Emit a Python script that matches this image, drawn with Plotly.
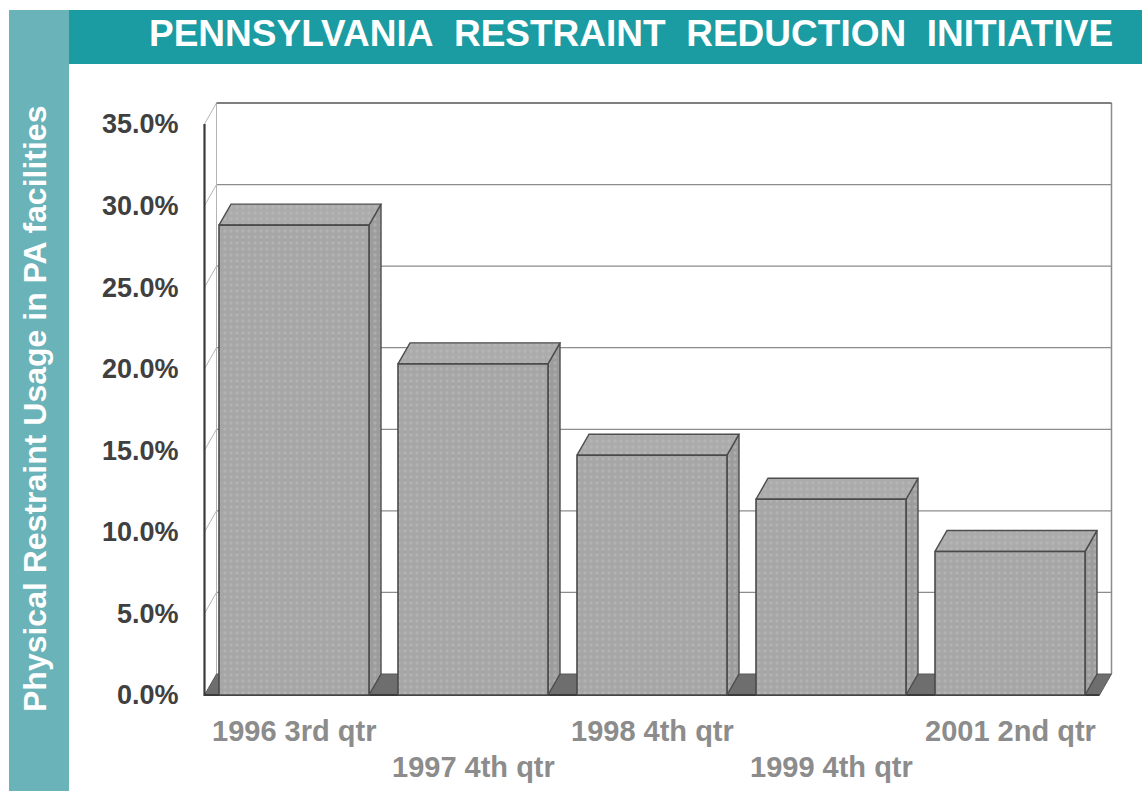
import plotly.graph_objects as go

# ---- data -------------------------------------------------------------
quarters = ["1996 3rd qtr", "1997 4th qtr", "1998 4th qtr", "1999 4th qtr", "2001 2nd qtr"]
restraint_pct = [28.8, 20.3, 14.7, 12.0, 8.8]
y_ticks = [0, 5, 10, 15, 20, 25, 30, 35]
title_text = "PENNSYLVANIA\u00a0\u00a0RESTRAINT\u00a0\u00a0REDUCTION\u00a0\u00a0INITIATIVE"
side_text = "Physical Restraint Usage in PA facilities"

# ---- page / axis calibration -----------------------------------------
W, H = 1142, 791
ML, MR, MT, MB = 186, 8, 78, 88
X_ORIGIN_PX, X_PX_PER_CAT = 294, 179        # pixel of category 0, pixels per category
Y_ORIGIN_PX, Y_PX_PER_PCT = 695, 16.314     # pixel of 0 %, pixels per percent


def x_at(px):
    return (px - X_ORIGIN_PX) / X_PX_PER_CAT


def y_at(py):
    return (Y_ORIGIN_PX - py) / Y_PX_PER_PCT


def paper_x(px):
    return (px - ML) / (W - ML - MR)


def paper_y(py):
    return (H - MB - py) / (H - MT - MB)


x_range = [x_at(ML), x_at(W - MR)]
y_range = [y_at(H - MB), y_at(MT)]

# pseudo-3D depth offsets (in axis units)
DX = 12 / X_PX_PER_CAT
DY = 21 / Y_PX_PER_PCT
BAR_W = 150 / X_PX_PER_CAT
X_LO, X_HI = -0.5, len(quarters) - 0.5
TOP = y_ticks[-1]

FONT = "Liberation Sans, Arial, sans-serif"

fig = go.Figure()


def poly(xs, ys, fill, line_color="rgba(0,0,0,0)", line_w=0, pattern=None):
    kw = dict(x=xs, y=ys, mode="lines", fill="toself", fillcolor=fill,
              line=dict(color=line_color, width=line_w),
              hoverinfo="skip", showlegend=False)
    if pattern:
        kw["fillpattern"] = pattern
    fig.add_trace(go.Scatter(**kw))


def lines(xs, ys, color, width):
    fig.add_trace(go.Scatter(x=xs, y=ys, mode="lines",
                             line=dict(color=color, width=width),
                             hoverinfo="skip", showlegend=False))


# back wall
poly([X_LO + DX, X_HI + DX, X_HI + DX, X_LO + DX, X_LO + DX],
     [DY, DY, TOP + DY, TOP + DY, DY], "white")

# gridlines on the back wall
gx, gy = [], []
for v in y_ticks[1:-1]:
    gx += [X_LO + DX, X_HI + DX, None]
    gy += [v + DY, v + DY, None]
lines(gx, gy, "#8c8c8c", 1.3)

# gridline traces on the left side wall
sx, sy = [], []
for v in y_ticks[1:]:
    sx += [X_LO, X_LO + DX, None]
    sy += [v, v + DY, None]
sx += [X_LO + DX, X_LO + DX, None]
sy += [DY, TOP + DY, None]
lines(sx, sy, "#b4b4b4", 1)

# right edge and top edge of the back wall
lines([X_HI + DX, X_HI + DX], [DY, TOP + DY], "#8c8c8c", 1.5)
lines([X_LO + DX, X_HI + DX], [TOP + DY, TOP + DY], "#555555", 1.6)

# floor
poly([X_LO, X_HI, X_HI + DX, X_LO + DX, X_LO], [0, 0, DY, DY, 0],
     "#6e6e6e", "#5a5a5a", 1)

# front value axis and baseline
lines([X_LO, X_LO, X_HI], [TOP, 0, 0], "#3a3a3a", 2.2)

# bars: side faces, top faces, front faces
side_x, side_y, top_x, top_y, front_x, front_y = [], [], [], [], [], []
for i, v in enumerate(restraint_pct):
    l, r = i - BAR_W / 2, i + BAR_W / 2
    side_x += [r, r + DX, r + DX, r, r, None]
    side_y += [0, DY, v + DY, v, 0, None]
    top_x += [l, r, r + DX, l + DX, l, None]
    top_y += [v, v, v + DY, v + DY, v, None]
    front_x += [l, r, r, l, l, None]
    front_y += [0, 0, v, v, 0, None]

dots = lambda bg: dict(shape=".", bgcolor=bg, fgcolor="#bdbdbd",
                       size=6, solidity=0.25)
poly(side_x, side_y, "#9c9c9c", "#4d4d4d", 1.4, dots("#9c9c9c"))
poly(top_x, top_y, "#ababab", "#4d4d4d", 1.4, dots("#ababab"))
poly(front_x, front_y, "#a6a6a6", "#4a4a4a", 1.6, dots("#a6a6a6"))

# ---- decoration and text ---------------------------------------------
shapes = [
    dict(type="rect", xref="paper", yref="paper",
         x0=paper_x(9), x1=paper_x(69), y0=paper_y(10), y1=paper_y(H),
         fillcolor="#6ab3b8", line=dict(width=0)),
    dict(type="rect", xref="paper", yref="paper",
         x0=paper_x(69), x1=paper_x(W), y0=paper_y(10), y1=paper_y(64),
         fillcolor="#1a9ca2", line=dict(width=0)),
]

annotations = [
    dict(text=title_text, xref="paper", yref="paper",
         x=paper_x(631), y=paper_y(34), xanchor="center", yanchor="middle",
         showarrow=False,
         font=dict(family=FONT, size=37, color="white", weight="bold")),
    dict(text=side_text, xref="paper", yref="paper",
         x=paper_x(35), y=paper_y(409), xanchor="center", yanchor="middle",
         textangle=-90, showarrow=False,
         font=dict(family=FONT, size=32, color="white", weight="bold")),
]
for i, q in enumerate(quarters):
    annotations.append(dict(
        text=q, x=i, xref="x", yref="paper",
        y=paper_y(731 if i % 2 == 0 else 767),
        xanchor="center", yanchor="middle", showarrow=False,
        font=dict(family=FONT, size=29, color="#8c8c8c", weight="bold")))

fig.update_layout(
    width=W, height=H,
    margin=dict(l=ML, r=MR, t=MT, b=MB, autoexpand=False),
    paper_bgcolor="white", plot_bgcolor="white",
    shapes=shapes, annotations=annotations,
    xaxis=dict(range=x_range, showgrid=False, zeroline=False,
               showticklabels=False, showline=False, fixedrange=True),
    yaxis=dict(range=y_range, showgrid=False, zeroline=False, showline=False,
               tickvals=y_ticks, ticktext=[f"{v:.1f}%" for v in y_ticks],
               ticks="outside", ticklen=1, tickcolor="rgba(0,0,0,0)",
               tickfont=dict(family=FONT, size=27, color="#404040", weight="bold"),
               fixedrange=True),
)

fig.write_html("out.html")
